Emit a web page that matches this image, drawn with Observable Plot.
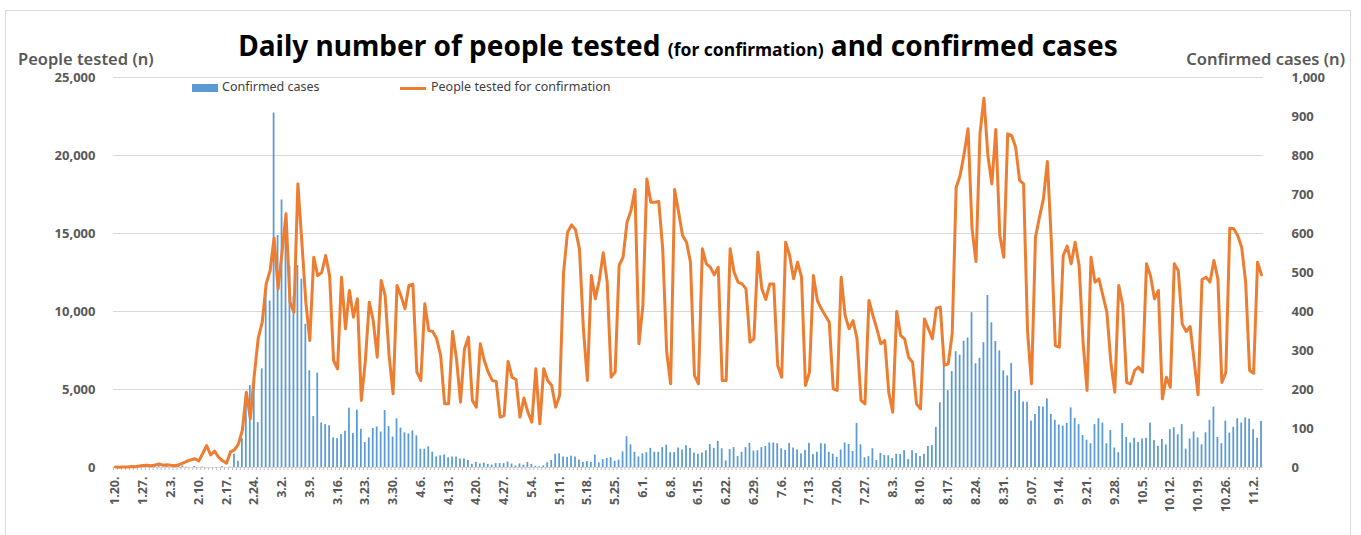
<!DOCTYPE html>
<html>
<head>
<meta charset="utf-8">
<script src="https://cdn.jsdelivr.net/npm/d3@7"></script>
<script src="https://cdn.jsdelivr.net/npm/@observablehq/plot@0.6"></script>
<style>
  html, body { margin: 0; padding: 0; background: #fff; }
  #wrap { position: relative; width: 1361px; height: 535px; overflow: hidden; font-family: "Noto Sans", sans-serif; }
  #frame { position: absolute; left: 5px; top: 10px; width: 1346px; height: 530px; border: 1px solid #d9d9d9; box-sizing: border-box; }
  #chart { position: absolute; left: 0; top: 0; }
  .abs { position: absolute; white-space: nowrap; }
  #title { left: 0; width: 1356px; top: 31px; text-align: center; font-size: 28px; font-weight: 700; color: #000; line-height: 1; }
  #title .small { font-size: 17.5px; }
  .axt { top: 51px; font-size: 16.5px; font-weight: 600; color: #595959; line-height: 1; }
  .leg { top: 81px; font-size: 12.5px; color: #404040; line-height: 1; }
</style>
</head>
<body>
<div id="wrap">
  <div id="frame"></div>
  <div id="chart"></div>
  <div id="title" class="abs">Daily number of people tested <span class="small">(for confirmation)</span> and confirmed cases</div>
  <div class="abs axt" style="left:18px;">People tested (n)</div>
  <div class="abs axt" style="right:16px;">Confirmed cases (n)</div>
  <div class="abs" style="left:192px;top:84px;width:26px;height:8px;background:#5b9bd5;"></div>
  <div class="abs leg" style="left:222px;">Confirmed cases</div>
  <div class="abs" style="left:400px;top:86.5px;width:26px;height:3px;background:#ed7d31;"></div>
  <div class="abs leg" style="left:431px;">People tested for confirmation</div>
</div>
<script>
// First day of the series (one value per day)
const startDate = "2020-01-20";

// Daily confirmed cases (right axis)
const cases = [
  1,0,0,0,1,0,1,1,0,0,3,4,
  1,3,0,1,2,4,1,0,3,0,1,0,0,0,0,2,0,1,34,16,74,190,210,207,115,253,449,427,909,
  595,686,600,516,438,518,483,367,248,131,242,114,110,107,76,74,84,93,152,87,147,98,64,76,100,104,91,146,105,78,125,
  101,89,86,94,81,47,47,53,39,27,30,32,25,27,27,22,22,18,8,13,9,11,8,6,10,10,10,14,9,4,
  9,6,13,8,3,2,4,12,18,34,35,27,26,29,27,19,13,15,13,32,12,20,23,25,16,19,40,79,58,39,27,
  35,38,49,39,39,51,57,38,38,50,45,56,49,37,34,37,43,59,49,67,48,17,46,51,28,39,51,62,42,43,
  51,54,63,63,61,48,44,62,50,45,35,44,62,33,39,61,60,39,34,26,45,63,59,41,113,58,25,28,48,18,36,
  31,30,23,34,33,43,20,43,36,28,34,54,56,103,166,279,197,246,297,288,324,332,397,266,280,320,441,371,323,299,248,
  235,267,195,198,168,167,119,136,156,155,176,136,121,109,106,113,153,126,110,82,70,61,110,125,114,61,95,50,38,113,
  77,63,75,64,73,75,114,69,54,72,58,97,102,84,110,47,73,91,76,58,89,121,155,77,61,119,88,103,125,114,127,
  124,97,75,118
];

// Daily people tested for confirmation (left axis)
const tests = [
  30,20,40,30,60,50,90,130,150,110,160,220,
  150,180,140,110,180,280,400,490,560,420,900,1410,800,1050,660,430,280,1000,1130,1500,2400,4830,3120,5900,8300,9300,11775,12630,14720,
  11450,13800,16260,10600,9960,18180,14445,10600,8140,13480,12300,12500,13590,12300,6860,6325,12200,8890,11350,9640,10810,4300,6800,10600,9420,7070,11990,11025,7170,4720,11670,
  11000,10170,11670,11750,6110,5580,10490,8780,8720,8250,7180,4080,4080,8720,6965,4190,7600,8355,4300,3870,7930,6860,6110,5580,5520,3225,3330,6800,5790,5640,
  3225,4450,3550,2910,6325,2800,6325,5580,5260,3870,4615,12520,15085,15555,15250,14015,8890,5580,12300,10810,12000,13760,11880,5790,6110,12950,13480,15725,16470,17820,7930,
  10385,18500,17010,17010,17050,14015,7390,5365,17820,16370,14870,14445,13160,5900,5365,14015,13055,12840,12350,12840,5580,5580,14015,12520,11880,11770,11450,8030,8250,13800,
  11450,10770,11770,11770,6540,5790,14445,13590,12095,13160,12200,5260,6110,12300,10705,10170,9745,9315,5045,4940,12200,9745,8890,9420,8250,4300,4080,10705,9745,8890,7930,
  8140,4830,3550,10000,8460,8250,7070,6750,4080,3760,9525,8890,8250,10215,10280,6540,6645,8570,17970,18720,20105,21710,15300,13200,21390,23675,20000,18180,21665,14870,13480,
  21390,21280,20535,18400,18180,8720,5365,14765,16045,17220,19615,14500,7820,7710,13590,14190,13055,14445,12950,8030,4940,13480,11880,12095,11025,9960,6750,4830,11670,10385,
  5450,5365,6220,6430,6110,13055,12300,10810,11350,4400,5790,5150,13055,12630,9210,8720,9040,6860,4660,12050,12200,11880,13270,12095,5450,6110,15340,15300,14870,14120,11880,
  6220,6040,13160,12350
];

// Weekly x tick labels (every 7th day from the start)
const xTickLabels = ["1.20.","1.27.","2.3.","2.10.","2.17.","2.24.","3.2.","3.9.","3.16.","3.23.","3.30.","4.6.","4.13.","4.20.","4.27.","5.4.","5.11.","5.18.","5.25.","6.1.","6.8.","6.15.","6.22.","6.29.","7.6.","7.13.","7.20.","7.27.","8.3.","8.10.","8.17.","8.24.","8.31.","9.07.","9.14.","9.21.","9.28.","10.5.","10.12.","10.19.","10.26.","11.2."];

const leftTicks = [0, 5000, 10000, 15000, 20000, 25000];
const rightTicks = [0, 100, 200, 300, 400, 500, 600, 700, 800, 900, 1000];
const casesToTests = 25; // 1,000 cases on the right axis = 25,000 tests on the left

const start = new Date(startDate + "T00:00:00Z");
const dates = cases.map((_, i) => d3.utcDay.offset(start, i));
const mid = d => d3.utcHour.offset(d, 12);
const data = dates.map((date, i) => ({date, cases: cases[i], tests: tests[i]}));
const labelMap = new Map(xTickLabels.map((t, k) => [+mid(dates[k * 7]), t]));

const fmt = d3.format(",");
const axisGray = "#595959";

const chart = Plot.plot({
  width: 1361,
  height: 535,
  marginLeft: 113,
  marginRight: 98,
  marginTop: 77,
  marginBottom: 68,
  style: {fontFamily: "Noto Sans, sans-serif", fontSize: "13px", background: "transparent", overflow: "visible"},
  x: {type: "utc", domain: [dates[0], d3.utcDay.offset(dates[dates.length - 1], 1)]},
  y: {domain: [0, 25000]},
  marks: [
    Plot.ruleY(leftTicks.slice(1), {stroke: "#d9d9d9", strokeWidth: 1}),
    Plot.rectY(data, {
      x1: "date",
      x2: d => d3.utcDay.offset(d.date, 1),
      y: d => d.cases * casesToTests,
      fill: "#5b9bd5",
      insetLeft: 1.1,
      insetRight: 1.1
    }),
    Plot.ruleY([0], {stroke: "#d9d9d9", strokeWidth: 1}),
    Plot.axisX({ticks: dates, tickSize: 3, tickFormat: () => "", stroke: "#bfbfbf", label: null}),
    Plot.axisX({
      ticks: xTickLabels.map((_, k) => mid(dates[k * 7])),
      tickFormat: d => labelMap.get(+d),
      tickRotate: -90,
      tickSize: 0,
      tickPadding: 9,
      fontSize: 12.5,
      fontWeight: "bold",
      fill: axisGray,
      label: null
    }),
    Plot.lineY(data, {
      x: d => mid(d.date),
      y: "tests",
      stroke: "#ed7d31",
      strokeWidth: 3,
      strokeLinejoin: "round",
      strokeLinecap: "round"
    }),
    Plot.axisY({
      anchor: "left",
      ticks: leftTicks,
      tickFormat: fmt,
      tickSize: 0,
      tickPadding: 18,
      fontSize: 13,
      fontWeight: "bold",
      fill: axisGray,
      label: null
    }),
    Plot.axisY({
      anchor: "right",
      ticks: rightTicks.map(v => v * casesToTests),
      tickFormat: d => fmt(d / casesToTests),
      tickSize: 0,
      tickPadding: 28,
      fontSize: 13,
      fontWeight: "bold",
      fill: axisGray,
      label: null
    })
  ]
});
document.getElementById("chart").appendChild(chart);
</script>
</body>
</html>
